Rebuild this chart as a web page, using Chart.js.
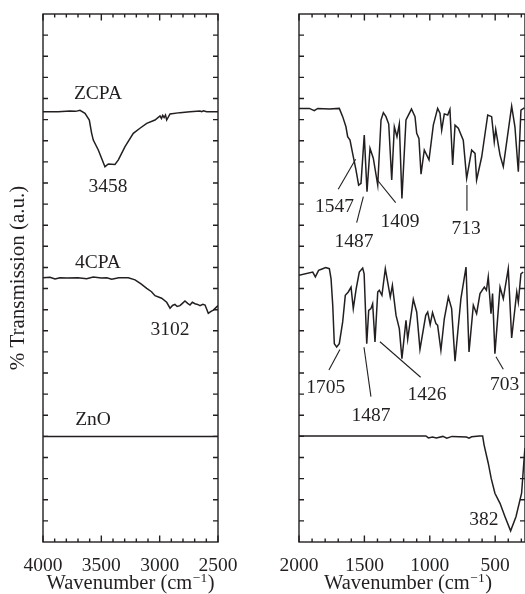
<!DOCTYPE html>
<html>
<head>
<meta charset="utf-8">
<script src="https://cdn.jsdelivr.net/npm/chart.js@4"></script>
<style>
html, body { margin: 0; padding: 0; background: #fff; overflow: hidden; width: 525px; height: 594px; }
canvas { position: absolute; top: 0; }
#left { left: 0; }
#right { left: 260px; }
</style>
</head>
<body>
<canvas id="left" width="260" height="594"></canvas>
<canvas id="right" width="270" height="594"></canvas>
<script>
// tick labels
const leftTicks = [4000, 3500, 3000, 2500];
const rightTicks = [2000, 1500, 1000, 500];

// left panel, 4000-2500 cm-1
const zcpaHighWn = [4000, 3870, 3769, 3720, 3683, 3640, 3603, 3583, 3569, 3526, 3469, 3440, 3383, 3354, 3297, 3226, 3169, 3111, 3040, 2997, 2985, 2974, 2962, 2950, 2940, 2911, 2826, 2740, 2654, 2640, 2625, 2597, 2500];
const zcpaHighT = [20.37, 20.37, 20.41, 20.39, 20.44, 20.30, 19.98, 19.35, 19.03, 18.56, 17.77, 17.90, 17.88, 18.09, 18.72, 19.35, 19.59, 19.82, 19.98, 20.17, 20.05, 20.20, 20.10, 20.22, 19.98, 20.27, 20.33, 20.37, 20.41, 20.38, 20.42, 20.37, 20.37];

const cpaHighWn = [4000, 3940, 3897, 3854, 3797, 3700, 3626, 3569, 3500, 3454, 3411, 3350, 3269, 3211, 3160, 3111, 3070, 3040, 2983, 2940, 2911, 2890, 2869, 2850, 2826, 2805, 2783, 2760, 2740, 2720, 2697, 2675, 2654, 2630, 2611, 2583, 2560, 2540, 2500];
const cpaHighT = [12.51, 12.53, 12.45, 12.51, 12.50, 12.51, 12.47, 12.55, 12.50, 12.51, 12.44, 12.51, 12.51, 12.41, 12.22, 12.01, 11.85, 11.66, 11.54, 11.35, 11.07, 11.20, 11.25, 11.15, 11.19, 11.30, 11.41, 11.30, 11.22, 11.35, 11.28, 11.25, 11.19, 11.25, 11.22, 10.83, 10.92, 10.98, 11.19];

const znoHighWn = [4000, 2500];
const znoHighT = [5.0, 5.0];

// right panel, 2000-270 cm-1
const zcpaLowWn = [2000, 1921, 1883, 1857, 1768, 1692, 1666, 1641, 1628, 1610, 1590, 1564, 1544, 1526, 1501, 1480, 1457, 1432, 1398, 1373, 1355, 1335, 1314, 1291, 1271, 1251, 1233, 1213, 1182, 1140, 1113, 1100, 1083, 1067, 1042, 1006, 973, 940, 922, 909, 889, 863, 846, 825, 807, 782, 744, 718, 680, 654, 642, 603, 557, 527, 507, 496, 463, 438, 374, 349, 323, 303, 277];
const zcpaLowT = [20.53, 20.53, 20.42, 20.53, 20.50, 20.53, 20.14, 19.66, 19.19, 19.03, 18.40, 17.61, 16.90, 16.98, 19.27, 16.59, 18.64, 18.17, 16.90, 19.98, 20.33, 20.14, 19.79, 17.14, 19.66, 19.19, 19.79, 16.27, 19.98, 20.50, 20.14, 19.35, 19.11, 17.42, 18.56, 18.09, 19.74, 20.53, 20.30, 19.50, 20.27, 20.22, 20.49, 17.85, 19.74, 19.59, 19.03, 17.22, 18.56, 18.40, 17.14, 18.24, 20.22, 20.14, 18.95, 19.54, 18.32, 17.77, 20.64, 19.66, 17.53, 20.45, 20.55];

const cpaLowWn = [2000, 1895, 1875, 1850, 1819, 1796, 1768, 1755, 1742, 1730, 1712, 1692, 1666, 1646, 1623, 1602, 1585, 1563, 1539, 1513, 1502, 1482, 1467, 1450, 1437, 1419, 1398, 1386, 1366, 1340, 1322, 1302, 1286, 1258, 1233, 1213, 1182, 1169, 1126, 1100, 1075, 1031, 1016, 997, 979, 953, 940, 915, 889, 858, 833, 807, 762, 723, 700, 667, 642, 616, 583, 567, 553, 532, 520, 502, 463, 438, 400, 374, 335, 323, 303, 286];
const cpaLowT = [12.63, 12.78, 12.55, 12.86, 12.94, 12.99, 12.94, 12.47, 11.21, 9.39, 9.23, 9.39, 10.42, 11.68, 11.84, 12.07, 11.05, 11.99, 12.78, 12.97, 12.70, 9.39, 10.97, 11.05, 11.28, 9.47, 11.84, 11.92, 11.68, 12.94, 12.31, 11.60, 12.15, 10.73, 10.10, 8.68, 10.50, 9.60, 11.49, 10.89, 9.12, 10.73, 10.89, 10.29, 10.86, 10.34, 10.26, 9.08, 10.57, 11.60, 11.05, 8.56, 11.52, 13.02, 9.00, 11.21, 10.81, 11.76, 12.07, 11.92, 12.55, 10.81, 11.76, 8.92, 12.07, 11.52, 12.94, 9.66, 11.84, 11.36, 12.70, 12.78];

const znoLowWn = [2000, 1500, 1030, 1010, 980, 950, 900, 870, 830, 720, 700, 680, 620, 596, 585, 553, 530, 502, 463, 425, 382, 341, 298, 273];
const znoLowT = [5.02, 5.02, 5.02, 4.93, 4.97, 4.93, 5.00, 4.92, 5.00, 4.97, 4.92, 4.98, 5.02, 5.02, 4.60, 3.73, 3.00, 2.31, 1.83, 1.20, 0.53, 1.20, 2.31, 4.44];

// labels and leader lines, in data units
const leftNotes = [
  { text: 'ZCPA', x: 3529, y: 21.26 },
  { text: '3458', x: 3443, y: 16.86 },
  { text: '4CPA', x: 3529, y: 13.26 },
  { text: '3102', x: 2911, y: 10.13 },
  { text: 'ZnO', x: 3571, y: 5.87 }
];
const rightNotes = [
  { text: '1547', x: 1729, y: 15.92, line: [1700, 16.70, 1567, 18.12] },
  { text: '1487', x: 1580, y: 14.27, line: [1559, 15.12, 1508, 16.35] },
  { text: '1409', x: 1228, y: 15.20, line: [1401, 17.14, 1261, 16.07] },
  { text: '713', x: 723, y: 14.89, line: [716, 16.90, 716, 15.69] },
  { text: '1705', x: 1796, y: 7.34, line: [1771, 8.14, 1687, 9.12] },
  { text: '1487', x: 1450, y: 6.06, line: [1450, 6.88, 1503, 9.22] },
  { text: '1426', x: 1021, y: 7.01, line: [1381, 9.48, 1070, 7.80] },
  { text: '703', x: 427, y: 7.50, line: [494, 8.77, 438, 8.18] },
  { text: '382', x: 586, y: 1.10 }
];

const ink = '#231f20';
const serif = 'Liberation Serif';

const pts = (xs, ys) => xs.map((v, i) => ({ x: v, y: ys[i] }));
const spectrum = (xs, ys) => ({
  data: pts(xs, ys),
  borderColor: ink,
  borderWidth: 1.5,
  pointRadius: 0,
  tension: 0,
  fill: false
});

// frame, inward ticks, labels and the x title
const decor = {
  id: 'decor',
  afterDatasetsDraw(chart, args, opts) {
    const { ctx, chartArea: a, scales: { x, y } } = chart;
    ctx.save();
    ctx.strokeStyle = ink;
    ctx.lineWidth = 1.4;
    ctx.strokeRect(a.left, a.top, a.right - a.left, a.bottom - a.top);
    ctx.beginPath();
    for (let v = Math.ceil(x.min / 100) * 100; v <= x.max; v += 100) {
      const px = x.getPixelForValue(v);
      const len = v % 500 === 0 ? 6.5 : 3.5;
      ctx.moveTo(px, a.bottom); ctx.lineTo(px, a.bottom - len);
      ctx.moveTo(px, a.top); ctx.lineTo(px, a.top + len);
    }
    for (let v = y.min + 1; v < y.max; v++) {
      const py = y.getPixelForValue(v);
      ctx.moveTo(a.left, py); ctx.lineTo(a.left + 5, py);
      ctx.moveTo(a.right, py); ctx.lineTo(a.right - 5, py);
    }
    ctx.stroke();

    ctx.lineWidth = 1.1;
    ctx.fillStyle = ink;
    ctx.font = '19.5px "' + serif + '"';
    ctx.textAlign = 'center';
    ctx.textBaseline = 'alphabetic';
    for (const n of opts.notes) {
      ctx.fillText(n.text, x.getPixelForValue(n.x), y.getPixelForValue(n.y) + 6.5);
      if (n.line) {
        ctx.beginPath();
        ctx.moveTo(x.getPixelForValue(n.line[0]), y.getPixelForValue(n.line[1]));
        ctx.lineTo(x.getPixelForValue(n.line[2]), y.getPixelForValue(n.line[3]));
        ctx.stroke();
      }
    }

    // x title with superscript
    const main = 'Wavenumber (cm';
    const sup = '\u22121';
    ctx.font = '20.5px "' + serif + '"';
    const w1 = ctx.measureText(main).width;
    const w3 = ctx.measureText(')').width;
    ctx.font = '13.5px "' + serif + '"';
    const w2 = ctx.measureText(sup).width + 1;
    let cx = (a.left + a.right) / 2 + opts.titleShift - (w1 + w2 + w3) / 2;
    ctx.textAlign = 'left';
    ctx.font = '20.5px "' + serif + '"';
    ctx.fillText(main, cx, 589);
    ctx.font = '13.5px "' + serif + '"';
    ctx.fillText(sup, cx + w1 + 0.5, 582);
    ctx.font = '20.5px "' + serif + '"';
    ctx.fillText(')', cx + w1 + w2, 589);
    ctx.restore();
  }
};

function makeChart(id, datasets, xMin, xMax, ticks, yTitle, leftWidth, padRight, notes, titleShift) {
  return new Chart(document.getElementById(id), {
    type: 'line',
    data: { datasets },
    options: {
      responsive: false,
      animation: false,
      devicePixelRatio: 1,
      layout: { padding: { top: 14, right: padRight, left: 0, bottom: 0 } },
      plugins: {
        legend: { display: false },
        tooltip: { enabled: false },
        decor: { notes, titleShift }
      },
      scales: {
        x: {
          type: 'linear',
          reverse: true,
          min: xMin,
          max: xMax,
          grid: { display: false },
          border: { display: false },
          afterBuildTicks: s => { s.ticks = ticks.map(v => ({ value: v })); },
          afterFit: s => { s.height = 52; },
          ticks: {
            autoSkip: false,
            maxRotation: 0,
            padding: 4,
            color: ink,
            font: { family: serif, size: 19.5 },
            callback: v => String(v)
          }
        },
        y: {
          min: 0,
          max: 25,
          grid: { display: false },
          border: { display: false },
          ticks: { display: false },
          afterFit: s => { s.width = leftWidth; },
          title: {
            display: !!yTitle,
            text: yTitle || '',
            color: ink,
            font: { family: serif, size: 21 },
            padding: { top: 6, bottom: 0 }
          }
        }
      }
    },
    plugins: [decor]
  });
}

makeChart('left', [
  spectrum(zcpaHighWn, zcpaHighT),
  spectrum(cpaHighWn, cpaHighT),
  spectrum(znoHighWn, znoHighT)
], 2500, 4000, leftTicks, '% Transmission (a.u.)', 43, 42, leftNotes, 0);

makeChart('right', [
  spectrum(zcpaLowWn, zcpaLowT),
  spectrum(cpaLowWn, cpaLowT),
  spectrum(znoLowWn, znoLowT)
], 272, 2000, rightTicks, null, 39, 5, rightNotes, -4);
</script>
</body>
</html>
